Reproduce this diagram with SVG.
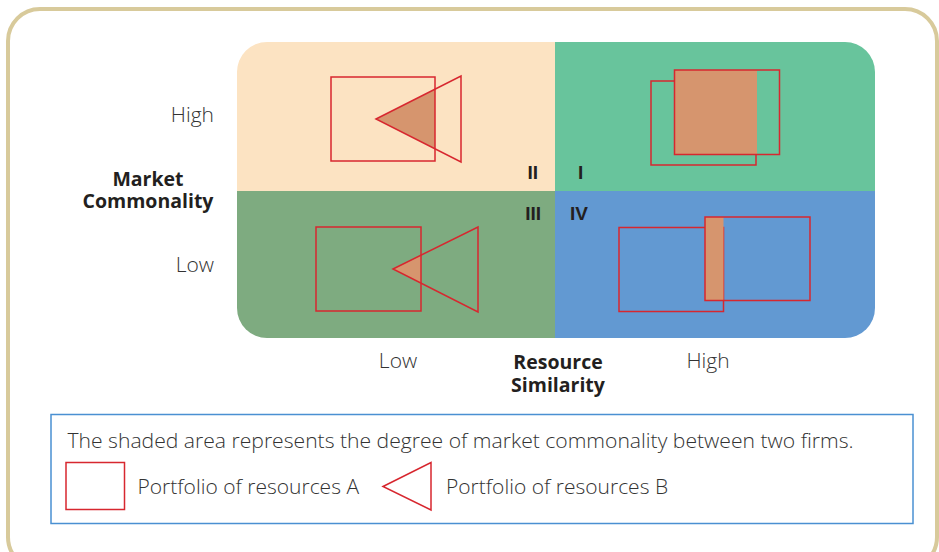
<svg xmlns="http://www.w3.org/2000/svg" width="939" height="552" viewBox="0 0 939 552">
<style>
.lbl{font-family:"Open Sans","Liberation Sans",sans-serif;font-size:21px;font-weight:300;fill:#333333;}
.bold{font-family:"Open Sans","Liberation Sans",sans-serif;font-size:19.5px;font-weight:700;fill:#231F20;}
.num{font-family:"Liberation Sans",Arial,sans-serif;font-size:19px;font-weight:bold;fill:#231F20;}
.ol{fill:none;stroke:#D7272F;stroke-width:1.5;}
.sh{fill:#D6956E;}
</style>
<rect x="8" y="9" width="929" height="560" rx="32" fill="#ffffff" stroke="#D8CA9B" stroke-width="4"/>
<g id="quadrants">
  <path id="q2" d="M237,191 V72 A30,30 0 0 1 267,42 H555 V191 Z" fill="#FCE3C2"/>
  <path id="q1" d="M555,42 H845 A30,30 0 0 1 875,72 V191 H555 Z" fill="#68C49C"/>
  <path id="q3" d="M237,191 H555 V338 H267 A30,30 0 0 1 237,308 Z" fill="#7EAB80"/>
  <path id="q4" d="M555,191 H875 V308 A30,30 0 0 1 845,338 H555 Z" fill="#6299D2"/>
</g>
<g id="quadrant-II-shapes">
  <polygon class="sh" points="376,119 435,89.2 435,148.8"/>
  <rect class="ol" x="331" y="77" width="104" height="84"/>
  <polygon class="ol" points="376,119 461,76 461,162"/>
  <text class="num" x="538" y="179" text-anchor="end">II</text>
</g>
<g id="quadrant-I-shapes">
  <rect class="ol" x="651" y="81" width="105" height="84"/>
  <rect class="sh" x="674.5" y="70" width="82.5" height="84.5"/>
  <rect class="ol" x="674.5" y="70" width="105" height="84.5"/>
  <text class="num" x="578" y="179">I</text>
</g>
<g id="quadrant-III-shapes">
  <polygon class="sh" points="393,269 421,255.2 421,283.2"/>
  <rect class="ol" x="316" y="227" width="105" height="84"/>
  <polygon class="ol" points="393,269 478,227 478,312"/>
  <text class="num" x="541" y="220" text-anchor="end">III</text>
</g>
<g id="quadrant-IV-shapes">
  <rect class="ol" x="619" y="227.5" width="104.5" height="84"/>
  <rect class="sh" x="705" y="217" width="18.5" height="83.5"/>
  <rect class="ol" x="705" y="217" width="105" height="83.5"/>
  <text class="num" x="570" y="220">IV</text>
</g>
<g id="axis-labels">
  <text class="lbl" x="214" y="122" text-anchor="end">High</text>
  <text class="lbl" x="214" y="272" text-anchor="end">Low</text>
  <text class="bold" x="148" y="186" text-anchor="middle">Market</text>
  <text class="bold" x="148" y="208" text-anchor="middle">Commonality</text>
  <text class="lbl" x="398" y="368" text-anchor="middle">Low</text>
  <text class="lbl" x="708" y="368" text-anchor="middle">High</text>
  <text class="bold" x="558" y="369" text-anchor="middle">Resource</text>
  <text class="bold" x="558" y="392" text-anchor="middle">Similarity</text>
</g>
<g id="legend">
  <rect x="51" y="414.5" width="862" height="109" fill="#ffffff" stroke="#4A90D2" stroke-width="1.5"/>
  <text class="lbl" x="67.5" y="448" textLength="786" lengthAdjust="spacingAndGlyphs">The shaded area represents the degree of market commonality between two firms.</text>
  <rect class="ol" x="66" y="462.5" width="58.5" height="47"/>
  <text class="lbl" x="137.5" y="494">Portfolio of resources A</text>
  <polygon class="ol" points="383,486.5 431,462.5 431,510"/>
  <text class="lbl" x="446" y="494">Portfolio of resources B</text>
</g>
</svg>
